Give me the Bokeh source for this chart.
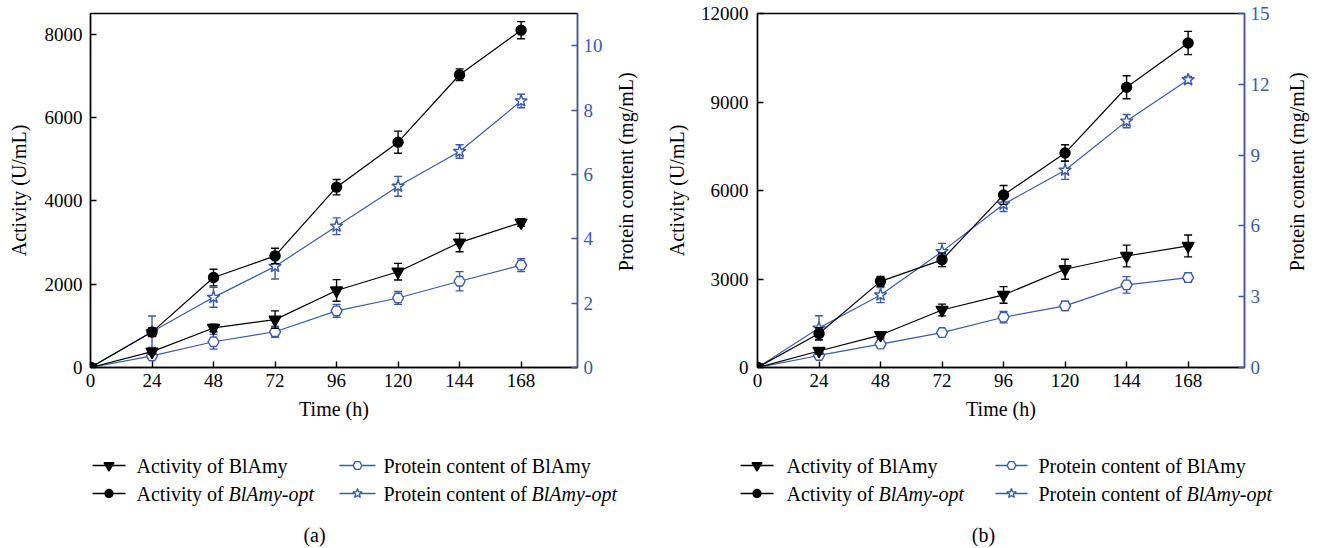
import math
from bokeh.plotting import figure
from bokeh.models import Range1d, LinearAxis, FixedTicker
from bokeh.layouts import column, row
from bokeh.embed import file_html
from bokeh.resources import INLINE
from bokeh.core.properties import value

# ---------------- data ----------------
hours = [0, 24, 48, 72, 96, 120, 144, 168]

# panel (a)
act_wt_a = [0, 380, 950, 1150, 1850, 2300, 3000, 3480]
act_wt_a_err = [0, 60, 90, 210, 260, 200, 220, 90]
act_opt_a = [0, 850, 2160, 2680, 4330, 5410, 7030, 8100]
act_opt_a_err = [0, 100, 200, 185, 185, 265, 140, 205]
prot_wt_a = [0, 0.36, 0.80, 1.11, 1.76, 2.16, 2.68, 3.18]
prot_wt_a_err = [0, 0.10, 0.23, 0.17, 0.20, 0.20, 0.30, 0.20]
prot_opt_a = [0, 1.11, 2.18, 3.14, 4.39, 5.63, 6.71, 8.28]
prot_opt_a_err = [0, 0.49, 0.31, 0.39, 0.26, 0.31, 0.21, 0.21]

# panel (b)
act_wt_b = [0, 560, 1100, 1950, 2460, 3330, 3780, 4120]
act_wt_b_err = [0, 100, 100, 200, 280, 340, 370, 370]
act_opt_b = [0, 1150, 2920, 3650, 5850, 7270, 9500, 11000]
act_opt_b_err = [0, 200, 170, 230, 320, 280, 390, 395]
prot_wt_b = [0, 0.51, 0.99, 1.48, 2.13, 2.61, 3.50, 3.81]
prot_wt_b_err = [0, 0.10, 0.10, 0.15, 0.24, 0.20, 0.35, 0.20]
prot_opt_b = [0, 1.67, 3.07, 4.91, 6.92, 8.36, 10.44, 12.19]
prot_opt_b_err = [0, 0.52, 0.32, 0.35, 0.31, 0.39, 0.28, 0.14]

act_ticks_a = [0, 2000, 4000, 6000, 8000]
prot_ticks_a = [0, 2, 4, 6, 8, 10]
act_ticks_b = [0, 3000, 6000, 9000, 12000]
prot_ticks_b = [0, 3, 6, 9, 12, 15]

right_label = "Protein content (mg/mL)"
labels_plain = ["Activity of BlAmy", "Activity of ", "Protein content of BlAmy", "Protein content of "]
labels_italic = ["", "BlAmy-opt", "", "BlAmy-opt"]

# ---------------- style ----------------
BLUE = "#3a5ba9"
FONT = "Liberation Serif"
TICK_FS = "19px"
LABEL_FS = "20px"
LEG_FS = "20px"


def series(p, x, y, err, marker, color, fill, size, rng=None):
    kw = {} if rng is None else {"y_range_name": rng}
    lo = [a - b for a, b in zip(y, err)]
    hi = [a + b for a, b in zip(y, err)]
    p.line(x, y, line_color=color, line_width=1.2, **kw)
    p.segment(x0=x, y0=lo, x1=x, y1=hi, line_color=color, line_width=1.4, **kw)
    p.scatter(x, hi, marker="dash", size=8, line_color=color, line_width=1.4, **kw)
    p.scatter(x, lo, marker="dash", size=8, line_color=color, line_width=1.4, **kw)
    p.scatter(x, y, marker=marker, size=size, line_color=color, fill_color=fill,
              line_width=1.4, **kw)


def style_axis(ax, color, lab_color, standoff, lab_standoff):
    ax.axis_line_color = color
    ax.axis_line_width = 1.4
    ax.major_tick_line_color = color
    ax.major_tick_line_width = 1.4
    ax.major_tick_in = 6
    ax.major_tick_out = 0
    ax.minor_tick_line_color = None
    ax.major_label_text_font = FONT
    ax.major_label_text_font_size = TICK_FS
    ax.major_label_text_color = color
    ax.major_label_standoff = standoff
    ax.axis_label_text_font = FONT
    ax.axis_label_text_font_size = LABEL_FS
    ax.axis_label_text_font_style = "normal"
    ax.axis_label_text_color = lab_color
    ax.axis_label_standoff = lab_standoff


def panel(width, lb, rb, act_max, act_ticks, prot_max, prot_ticks,
          awt, awte, aopt, aopte, pwt, pwte, popt, popte, left_stand, left_lab_stand):
    p = figure(width=width, height=425, output_backend="svg", toolbar_location=None,
               x_range=Range1d(0, 190), y_range=Range1d(0, act_max),
               min_border_left=lb, min_border_right=rb, min_border_top=13,
               min_border_bottom=58)
    p.extra_y_ranges = {"prot": Range1d(0, prot_max)}
    p.grid.visible = False
    p.outline_line_color = "black"
    p.outline_line_width = 1.4

    p.xaxis.ticker = FixedTicker(ticks=hours)
    p.xaxis.axis_label = "Time (h)"
    style_axis(p.xaxis[0], "black", "black", 6, 8)

    p.yaxis.ticker = FixedTicker(ticks=act_ticks)
    p.yaxis.axis_label = "Activity (U/mL)"
    style_axis(p.yaxis[0], "black", "black", left_stand, left_lab_stand)

    ra = LinearAxis(y_range_name="prot", ticker=FixedTicker(ticks=prot_ticks))
    style_axis(ra, BLUE, "black", 6, 0)
    p.add_layout(ra, "right")

    series(p, hours, pwt, pwte, "hex", BLUE, "white", 11, "prot")
    series(p, hours, popt, popte, "star", BLUE, "white", 13, "prot")
    series(p, hours, awt, awte, "inverted_triangle", "black", "black", 12)
    series(p, hours, aopt, aopte, "circle", "black", "black", 10)
    return p


def side_label(x0, x1, cx):
    # narrow strip to the right of a panel holding its rotated right-axis title
    f = figure(width=x1 - x0, height=425, output_backend="svg", toolbar_location=None,
               x_range=Range1d(x0, x1), y_range=Range1d(425, 0),
               min_border=0, x_axis_type=None, y_axis_type=None,
               outline_line_color=None)
    f.grid.visible = False
    f.text(x=[cx], y=[190], text=[right_label], angle=math.pi / 2,
           text_font=value(FONT), text_font_size=LABEL_FS, text_align="center",
           text_baseline="middle", text_color="black")
    return f


def legend_fig(x0, x1, col_lines, col_text, caption, cap_x):
    lf = figure(width=x1 - x0, height=122, output_backend="svg", toolbar_location=None,
                x_range=Range1d(x0, x1), y_range=Range1d(547, 425),
                min_border=0, x_axis_type=None, y_axis_type=None,
                outline_line_color=None)
    lf.grid.visible = False
    rows_y = [465, 493]
    markers = ["inverted_triangle", "circle", "hex", "star"]
    colors = ["black", "black", BLUE, BLUE]
    fills = ["black", "black", "white", "white"]
    sizes = [10, 8, 9, 10]
    italic_off = [0, 92, 0, 148]
    for i in range(4):
        c = i // 2
        yy = rows_y[i % 2]
        lx0, lx1 = col_lines[c]
        lf.segment(x0=[lx0], y0=[yy], x1=[lx1], y1=[yy], line_color=colors[i], line_width=1.3)
        lf.scatter([(lx0 + lx1) / 2], [yy], marker=markers[i], size=sizes[i],
                   line_color=colors[i], fill_color=fills[i], line_width=1.3)
        lf.text(x=[col_text[c]], y=[yy], text=[labels_plain[i]], text_font=value(FONT),
                text_font_size=LEG_FS, text_baseline="middle", text_align="left",
                text_color="black")
        if labels_italic[i]:
            lf.text(x=[col_text[c] + italic_off[i]], y=[yy], text=[labels_italic[i]],
                    text_font=value(FONT), text_font_size=LEG_FS,
                    text_font_style="italic", text_baseline="middle",
                    text_align="left", text_color="black")
    lf.text(x=[cap_x], y=[534], text=[caption], text_font=value(FONT),
            text_font_size=LEG_FS, text_baseline="middle", text_align="center",
            text_color="black")
    return lf


pa = panel(607, 90, 30, 8500, act_ticks_a, 11, prot_ticks_a,
           act_wt_a, act_wt_a_err, act_opt_a, act_opt_a_err,
           prot_wt_a, prot_wt_a_err, prot_opt_a, prot_opt_a_err, 8, 12)
sa = side_label(607, 655, 625)
pb = panel(619, 102, 30, 12000, act_ticks_b, 15, prot_ticks_b,
           act_wt_b, act_wt_b_err, act_opt_b, act_opt_b_err,
           prot_wt_b, prot_wt_b_err, prot_opt_b, prot_opt_b_err, 9, 10)
sb = side_label(1274, 1317, 1296)

la = legend_fig(0, 655, [(92, 125), (339, 375)], [136, 383], "(a)", 314)
lb = legend_fig(655, 1317, [(740, 773), (995, 1027)], [786, 1038], "(b)", 983)

layout = column(row(pa, sa, pb, sb, spacing=0), row(la, lb, spacing=0), spacing=0)

open("out.html", "w").write(file_html(layout, INLINE))
